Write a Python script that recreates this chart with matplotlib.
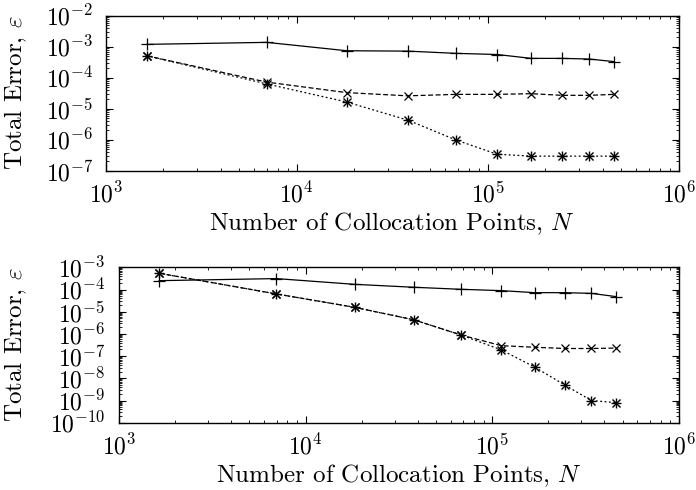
import matplotlib
matplotlib.use("Agg")
import matplotlib.pyplot as plt
import matplotlib.ticker as mt
import numpy as np

plt.rcParams['font.family'] = 'serif'
plt.rcParams['font.serif'] = ['cmr10']
plt.rcParams['mathtext.fontset'] = 'cm'
plt.rcParams['axes.formatter.use_mathtext'] = True
plt.rcParams['axes.unicode_minus'] = False

N = [1640, 6970, 18300, 38100, 68200, 112000, 169000, 245000, 340000, 460000]

top_plus = [1.19e-3, 1.38e-3, 7.4e-4, 7.2e-4, 6.1e-4, 5.6e-4, 4.2e-4, 4.2e-4, 4.0e-4, 3.3e-4]
top_cross = [5.1e-4, 7.2e-5, 3.3e-5, 2.6e-5, 2.9e-5, 2.9e-5, 3.05e-5, 2.7e-5, 2.7e-5, 2.9e-5]
top_star = [5.1e-4, 6.3e-5, 1.64e-5, 4.3e-6, 9.8e-7, 3.4e-7, 2.95e-7, 2.95e-7, 2.95e-7, 2.95e-7]

bot_plus = [2.5e-4, 3.1e-4, 1.71e-4, 1.26e-4, 1.02e-4, 8.9e-5, 7.2e-5, 7.2e-5, 6.7e-5, 4.8e-5]
bot_cross = [5.4e-4, 6.3e-5, 1.58e-5, 4.3e-6, 8.9e-7, 2.95e-7, 2.5e-7, 2.2e-7, 2.2e-7, 2.3e-7]
bot_star = [5.4e-4, 6.3e-5, 1.58e-5, 4.3e-6, 8.9e-7, 1.9e-7, 3.2e-8, 5.0e-9, 1.0e-9, 8.0e-10]

W, H = 696, 490
fig = plt.figure(figsize=(W/100, H/100), dpi=100)

def rect(l, r, t, b):
    return [l/W, 1-b/H, (r-l)/W, (b-t)/H]

ax1 = fig.add_axes(rect(105.7, 678.7, 15.7, 170.7))
ax2 = fig.add_axes(rect(119, 678.7, 267.3, 422.7))

TFS = 17
LFS = 18

def draw(ax, plus, cross, star, ylim):
    ax.plot(N, plus, color='black', lw=0.9, ls='-', marker='+', ms=8, mew=0.9)
    ax.plot(N, cross, color='black', lw=0.9, ls=(0, (4, 2)), marker='x', ms=6, mew=0.9)
    ax.plot(N, star, color='black', lw=0.9, ls=(0, (1.5, 2)), marker='x', ms=6, mew=1.0)
    ax.plot(N, star, color='black', lw=0, ls='none', marker='+', ms=7.5, mew=1.0)
    ax.set_xscale('log')
    ax.set_yscale('log')
    ax.set_xlim(1e3, 1e6)
    ax.set_ylim(*ylim)
    ax.tick_params(which='both', direction='in', top=True, right=True, labelsize=TFS)
    ax.tick_params(which='major', length=5, width=0.8)
    ax.tick_params(which='minor', length=2.5, width=0.6)
    ax.tick_params(axis='x', which='major', pad=8)
    ax.tick_params(axis='y', which='major', pad=9)
    for s in ax.spines.values():
        s.set_linewidth(1.0)
    ax.xaxis.set_minor_locator(mt.LogLocator(base=10, subs=np.arange(2, 10), numticks=20))
    ax.xaxis.set_minor_formatter(mt.NullFormatter())
    ax.yaxis.set_major_locator(mt.LogLocator(base=10, numticks=20))
    ax.yaxis.set_minor_locator(mt.LogLocator(base=10, subs=np.arange(2, 10), numticks=20))
    ax.yaxis.set_minor_formatter(mt.NullFormatter())

draw(ax1, top_plus, top_cross, top_star, (1e-7, 1e-2))
draw(ax2, bot_plus, bot_cross, bot_star, (1e-10, 1e-3))
ax2.tick_params(axis='y', which='major', pad=10)

xlab = r'Number of Collocation Points, $N$'
ylab = r'Total Error, $\varepsilon$'
fig.text((105.7 + 678.7) / 2 / W, 1 - 224 / H, xlab, fontsize=LFS, ha='center', va='center')
fig.text((119 + 678.7) / 2 / W, 1 - 476 / H, xlab, fontsize=LFS, ha='center', va='center')
fig.text(16 / W, 1 - 93 / H, ylab, fontsize=LFS, ha='center', va='center', rotation=90)
fig.text(16 / W, 1 - 345 / H, ylab, fontsize=LFS, ha='center', va='center', rotation=90)

fig.savefig('out.png', dpi=100)
